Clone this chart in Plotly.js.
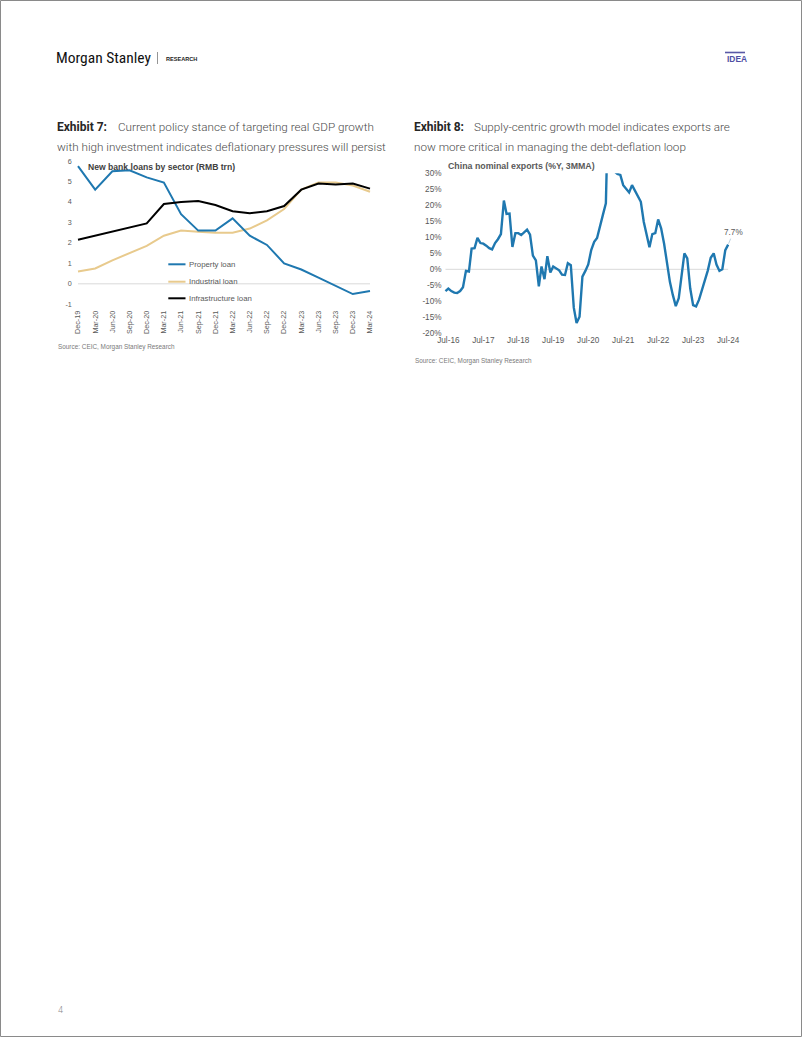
<!DOCTYPE html>
<html>
<head>
<meta charset="utf-8">
<script src="https://cdn.plot.ly/plotly-3.0.1.min.js"></script>
<style>
  html, body { margin: 0; padding: 0; background: #ffffff; }
  #page { width: 802px; height: 1037px; }
</style>
</head>
<body>
<div id="page"></div>
<script>
// ---------- Exhibit 7 data ----------
const loanQuarters = ['Dec-19','Mar-20','Jun-20','Sep-20','Dec-20','Mar-21','Jun-21','Sep-21','Dec-21',
  'Mar-22','Jun-22','Sep-22','Dec-22','Mar-23','Jun-23','Sep-23','Dec-23','Mar-24'];
const propertyLoan = [5.75, 4.6, 5.5, 5.55, 5.2, 4.95, 3.4, 2.6, 2.6, 3.2, 2.35, 1.9, 1.0, 0.7, 0.3, -0.1, -0.5, -0.35];
const industrialLoan = [0.6, 0.75, 1.15, 1.5, 1.85, 2.35, 2.6, 2.55, 2.5, 2.5, 2.7, 3.1, 3.65, 4.6, 4.95, 4.95, 4.8, 4.5];
const infrastructureLoan = [2.15, 2.35, 2.55, 2.75, 2.95, 3.9, 4.0, 4.05, 3.85, 3.55, 3.45, 3.55, 3.8, 4.6, 4.9, 4.85, 4.9, 4.65];
const loanSeriesNames = ['Property loan', 'Industrial loan', 'Infrastructure loan'];
const loanTicks = [-1, 0, 1, 2, 3, 4, 5, 6];
const loanTickText = ['-1', '0', '1', '2', '3', '4', '5', '6'];

// ---------- Exhibit 8 data ----------
const exportMonths = [
  '2016-06','2016-07','2016-08','2016-09','2016-10','2016-11','2016-12',
  '2017-01','2017-02','2017-03','2017-04','2017-05','2017-06','2017-07','2017-08','2017-09','2017-10','2017-11','2017-12',
  '2018-01','2018-02','2018-03','2018-04','2018-05','2018-06','2018-07','2018-08','2018-09','2018-10','2018-11','2018-12',
  '2019-01','2019-02','2019-03','2019-04','2019-05','2019-06','2019-07','2019-08','2019-09','2019-10','2019-11','2019-12',
  '2020-01','2020-02','2020-03','2020-04','2020-05','2020-06','2020-07','2020-08','2020-09','2020-10','2020-11','2020-12',
  '2021-01','2021-02','2021-03','2021-04','2021-05','2021-06','2021-07','2021-08','2021-09','2021-10','2021-11','2021-12',
  '2022-01','2022-02','2022-03','2022-04','2022-05','2022-06','2022-07','2022-08','2022-09','2022-10','2022-11','2022-12',
  '2023-01','2023-02','2023-03','2023-04','2023-05','2023-06','2023-07','2023-08','2023-09','2023-10','2023-11','2023-12',
  '2024-01','2024-02','2024-03','2024-04','2024-05','2024-06','2024-07'];
const exportsYoY = [
  -6.8, -6.0, -6.8, -7.3, -7.4, -6.8, -5.6,
  -0.5, -0.7, 6.5, 6.6, 9.8, 8.2, 8.0, 7.4, 6.6, 6.2, 8.2, 9.4,
  11.0, 21.5, 17.3, 17.4, 7.0, 11.3, 11.3, 10.7, 11.5, 12.4, 10.8, 4.3,
  2.8, -5.3, 0.9, -3.1, 4.1, -1.0, 0.9, 0.3, -0.3, -1.7, -1.8, 1.9,
  1.3, -12.0, -16.8, -14.8, -2.3, -0.5, 1.5, 6.0, 8.6, 9.8, 14.0, 17.0,
  20.6, 60.0, 45.0, 30.6, 29.8, 29.5, 26.3, 25.3, 24.0, 26.3, 24.5, 22.7,
  21.1, 14.8, 10.7, 6.9, 11.0, 11.3, 15.6, 12.8, 8.0, 1.5, -4.0, -8.0,
  -11.5, -9.0, -1.5, 5.0, 3.4, -6.0, -11.2, -11.6, -9.5, -6.5, -3.7, -0.4,
  3.6, 5.0, 1.5, -0.5, 0.0, 6.0, 7.7];
const exportTickVals = ['2016-07-01','2017-07-01','2018-07-01','2019-07-01','2020-07-01','2021-07-01','2022-07-01','2023-07-01','2024-07-01'];
const exportTickText = ['Jul-16','Jul-17','Jul-18','Jul-19','Jul-20','Jul-21','Jul-22','Jul-23','Jul-24'];
const exportYTicks = [-20, -15, -10, -5, 0, 5, 10, 15, 20, 25, 30];
const exportYTickText = ['-20%', '-15%', '-10%', '-5%', '0%', '5%', '10%', '15%', '20%', '25%', '30%'];

// ---------- helpers ----------
const W = 802, H = 1037;
const px = x => x / W;
const py = y => 1 - y / H;

const BLUE = '#1f78b0';
const TAN = '#e8ca8d';
const GREY_TXT = '#595959';
const TICK_FONT = {family: 'Liberation Sans, Arial, sans-serif', size: 7.2, color: GREY_TXT};
const TICK_FONT2 = {family: 'Liberation Sans, Arial, sans-serif', size: 8.2, color: GREY_TXT};

const traces = [
  {x: loanQuarters, y: industrialLoan, name: loanSeriesNames[1], type: 'scatter', mode: 'lines',
   line: {color: TAN, width: 2}, xaxis: 'x', yaxis: 'y'},
  {x: loanQuarters, y: propertyLoan, name: loanSeriesNames[0], type: 'scatter', mode: 'lines',
   line: {color: BLUE, width: 2}, xaxis: 'x', yaxis: 'y'},
  {x: loanQuarters, y: infrastructureLoan, name: loanSeriesNames[2], type: 'scatter', mode: 'lines',
   line: {color: '#000000', width: 2}, xaxis: 'x', yaxis: 'y'},
  {x: exportMonths, y: exportsYoY, name: 'China nominal exports', type: 'scatter', mode: 'lines',
   line: {color: BLUE, width: 2.4}, xaxis: 'x2', yaxis: 'y2'}
];

const legendColors = [BLUE, TAN, '#000000'];
const legendY = [264.3, 281.7, 298.3];

const shapes = [
  // page border
  {type: 'rect', xref: 'paper', yref: 'paper', x0: px(0.5), x1: px(801.5), y0: py(1036.5), y1: py(0.5),
   line: {color: '#8a8a8a', width: 1}, layer: 'above'},
  // IDEA bar
  {type: 'line', xref: 'paper', yref: 'paper', x0: px(725), x1: px(745), y0: py(52.5), y1: py(52.5),
   line: {color: '#5959a6', width: 1.6}},
  // header separator
  {type: 'line', xref: 'paper', yref: 'paper', x0: px(157.5), x1: px(157.5), y0: py(52), y1: py(64),
   line: {color: '#7a7a7a', width: 0.8}},
  // zero lines
  {type: 'line', xref: 'x', yref: 'y', x0: loanQuarters[0], x1: loanQuarters[loanQuarters.length - 1], y0: 0, y1: 0,
   line: {color: '#d9d9d9', width: 1}, layer: 'below'},
  {type: 'line', xref: 'x2', yref: 'y2', x0: exportMonths[0], x1: exportMonths[exportMonths.length - 1], y0: 0, y1: 0,
   line: {color: '#d9d9d9', width: 1}, layer: 'below'}
];
legendColors.forEach((c, i) => {
  shapes.push({type: 'line', xref: 'paper', yref: 'paper', x0: px(168.3), x1: px(185.5),
    y0: py(legendY[i]), y1: py(legendY[i]), line: {color: c, width: 2}});
});

const TITLE_FONT = 'Roboto, Liberation Sans, sans-serif';
const ann = (x, y, text, font, extra) => Object.assign({
  xref: 'paper', yref: 'paper', x: px(x), y: py(y), text: text, showarrow: false,
  xanchor: 'left', yanchor: 'middle', font: font
}, extra || {});

const annotations = [
  ann(53.5, 58, 'Morgan Stanley', {family: 'Liberation Sans Narrow, Roboto Condensed, Roboto, sans-serif', size: 15.5, color: '#111111'}),
  ann(164, 58.5, 'RESEARCH', {family: 'Liberation Sans, Arial, sans-serif', size: 5.6, color: '#222222', weight: 700}),
  ann(724.5, 58.5, 'IDEA', {family: 'Liberation Sans, Arial, sans-serif', size: 8.4, color: '#4f4fa3', weight: 700}),

  ann(55, 127.3, 'Exhibit 7:', {family: TITLE_FONT, size: 12, color: '#262626', weight: 700}),
  ann(115.7, 127.3, 'Current policy stance of targeting real GDP growth', {family: TITLE_FONT, size: 11.7, color: '#4a4a4a', weight: 300}),
  ann(55, 146.8, 'with high investment indicates deflationary pressures will persist', {family: TITLE_FONT, size: 11.7, color: '#4a4a4a', weight: 300}),

  ann(412.3, 127.3, 'Exhibit 8:', {family: TITLE_FONT, size: 12, color: '#262626', weight: 700}),
  ann(472.3, 127.3, 'Supply-centric growth model indicates exports are', {family: TITLE_FONT, size: 11.7, color: '#4a4a4a', weight: 300}),
  ann(412.3, 146.8, 'now more critical in managing the debt-deflation loop', {family: TITLE_FONT, size: 11.7, color: '#4a4a4a', weight: 300}),

  ann(86, 167, 'New bank loans by sector (RMB trn)', {family: 'Liberation Sans, Arial, sans-serif', size: 8.6, color: '#404040', weight: 700}),
  ann(445.5, 165.8, 'China nominal exports (%Y, 3MMA)', {family: 'Liberation Sans, Arial, sans-serif', size: 8.8, color: '#595959', weight: 700}),

  ann(56, 346.8, 'Source: CEIC, Morgan Stanley Research', {family: 'Liberation Sans, Arial, sans-serif', size: 6.4, color: '#7a7a7a'}),
  ann(413.3, 360.7, 'Source: CEIC, Morgan Stanley Research', {family: 'Liberation Sans, Arial, sans-serif', size: 6.4, color: '#7a7a7a'}),

  ann(55.5, 1010, '4', {family: 'Roboto, Liberation Sans, sans-serif', size: 9, color: '#8a8a8a', weight: 300}),

  {xref: 'x2', yref: 'y2', x: exportMonths[exportMonths.length - 1], y: exportsYoY[exportsYoY.length - 1],
   text: exportsYoY[exportsYoY.length - 1].toFixed(1) + '%', showarrow: true, arrowhead: 0, arrowwidth: 0.7,
   arrowcolor: '#9fbfd4', ax: 5, ay: -12, standoff: 1,
   font: {family: 'Liberation Sans, Arial, sans-serif', size: 8.2, color: GREY_TXT}}
];
loanSeriesNames.forEach((n, i) => {
  annotations.push(ann(186.5, legendY[i], n, {family: 'Liberation Sans, Arial, sans-serif', size: 7.8, color: GREY_TXT}));
});

const layout = {
  width: W, height: H,
  margin: {l: 0, r: 0, t: 0, b: 0, pad: 0},
  paper_bgcolor: '#ffffff', plot_bgcolor: 'rgba(0,0,0,0)',
  showlegend: false,
  xaxis: {
    type: 'category', domain: [px(72.85), px(375.15)], range: [-0.3, 17.3],
    tickangle: -90, tickfont: TICK_FONT, showgrid: false, zeroline: false, showline: false,
    ticks: '', anchor: 'y', fixedrange: true
  },
  yaxis: {
    domain: [py(308.4), py(156.9)], range: [-1.2, 6.2], tickvals: loanTicks, ticktext: loanTickText,
    tickfont: TICK_FONT, showgrid: false, zeroline: false, showline: false, ticks: '',
    anchor: 'x', fixedrange: true
  },
  xaxis2: {
    type: 'date', domain: [px(442.5), px(734.1)], range: ['2016-05-01', '2024-09-01'],
    tickvals: exportTickVals, ticktext: exportTickText, tickfont: TICK_FONT2,
    showgrid: false, zeroline: false, showline: false, ticks: '', anchor: 'y2', fixedrange: true
  },
  yaxis2: {
    domain: [py(333.3), py(173.3)], range: [-20, 30], tickvals: exportYTicks, ticktext: exportYTickText,
    tickfont: TICK_FONT2, showgrid: false, zeroline: false, showline: false, ticks: '',
    anchor: 'x2', fixedrange: true
  },
  shapes: shapes,
  annotations: annotations
};

Plotly.newPlot('page', traces, layout, {displayModeBar: false, staticPlot: true});
</script>
</body>
</html>
